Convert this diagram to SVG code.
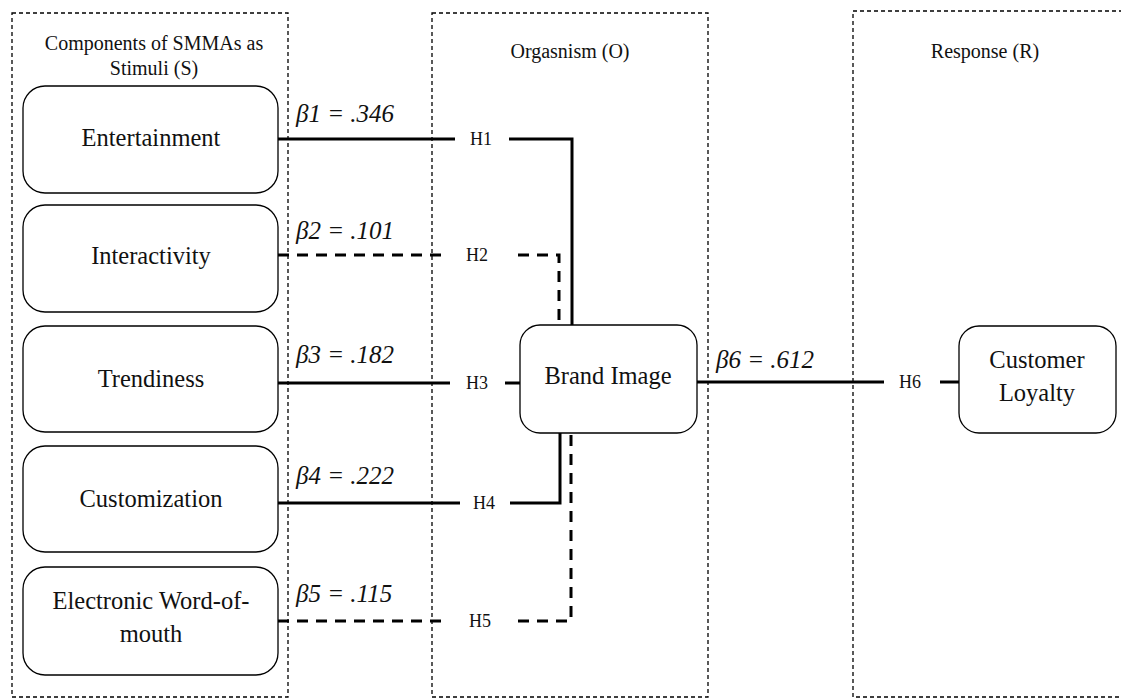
<svg xmlns="http://www.w3.org/2000/svg" width="1121" height="699" viewBox="0 0 1121 699">
<style>
.sec{fill:none;stroke:#000;stroke-width:1.3;stroke-dasharray:4 3}
.node{fill:#fff;stroke:#000;stroke-width:1.3}
.t{font-family:'Liberation Serif','Times New Roman','DejaVu Serif',serif;fill:#111;text-anchor:middle}
.nt{font-size:24.5px}
.st{font-size:20px}
.h{font-size:18px}
.b{font-size:25px;font-style:italic;text-anchor:start}
.s{fill:none;stroke:#000;stroke-width:3}
.d{fill:none;stroke:#000;stroke-width:3;stroke-dasharray:11 8}
</style>
<rect width="1121" height="699" fill="#fff"/>
<g id="sections" font-family="Liberation Serif, serif">
<rect class="sec" x="12" y="13" width="276" height="684"/>
<rect class="sec" x="432" y="13" width="276" height="684"/>
<rect class="sec" x="853" y="11" width="280" height="686"/>
<text class="t st" x="154" y="50">Components of SMMAs as</text>
<text class="t st" x="154" y="75">Stimuli (S)</text>
<text class="t st" x="570" y="58">Orgasnism (O)</text>
<text class="t st" x="985" y="58">Response (R)</text>
</g>
<g id="connectors" font-family="Liberation Serif, serif">
<path class="s" d="M278 139H455M509 139H572V326"/>
<path class="d" d="M278 255H442M518 255H559V326"/>
<path class="s" d="M278 383H450M505 383H520"/>
<path class="s" d="M278 503H460M510 503H560V433"/>
<path class="d" d="M278 621H446M518 621H571V433"/>
<path class="s" d="M697 382H884M940 382H959"/>
<text class="t h" x="481" y="145">H1</text>
<text class="t h" x="477" y="261">H2</text>
<text class="t h" x="477" y="389">H3</text>
<text class="t h" x="484" y="509">H4</text>
<text class="t h" x="480" y="627">H5</text>
<text class="t h" x="910" y="388">H6</text>
<text class="t b" x="296" y="122">β1 = .346</text>
<text class="t b" x="296" y="239">β2 = .101</text>
<text class="t b" x="296" y="363">β3 = .182</text>
<text class="t b" x="296" y="484">β4 = .222</text>
<text class="t b" x="296" y="602">β5 = .115</text>
<text class="t b" x="716" y="368">β6 = .612</text>
</g>
<g id="n1" font-family="Liberation Serif, serif"><rect class="node" x="23" y="86" width="255" height="107" rx="22"/><text class="t nt" x="151" y="146">Entertainment</text></g>
<g id="n2" font-family="Liberation Serif, serif"><rect class="node" x="23" y="205" width="255" height="107" rx="22"/><text class="t nt" x="151" y="264">Interactivity</text></g>
<g id="n3" font-family="Liberation Serif, serif"><rect class="node" x="23" y="326" width="255" height="106" rx="22"/><text class="t nt" x="151" y="387">Trendiness</text></g>
<g id="n4" font-family="Liberation Serif, serif"><rect class="node" x="23" y="446" width="255" height="106" rx="22"/><text class="t nt" x="151" y="507">Customization</text></g>
<g id="n5" font-family="Liberation Serif, serif"><rect class="node" x="23" y="567" width="255" height="108" rx="22"/><text class="t nt" x="151" y="609">Electronic Word-of-</text><text class="t nt" x="151" y="642">mouth</text></g>
<g id="n6" font-family="Liberation Serif, serif"><rect class="node" x="520" y="325" width="177" height="108" rx="20"/><text class="t nt" x="608" y="384">Brand Image</text></g>
<g id="n7" font-family="Liberation Serif, serif"><rect class="node" x="959" y="326" width="157" height="107" rx="20"/><text class="t nt" x="1037" y="368">Customer</text><text class="t nt" x="1037" y="401">Loyalty</text></g>
</svg>
